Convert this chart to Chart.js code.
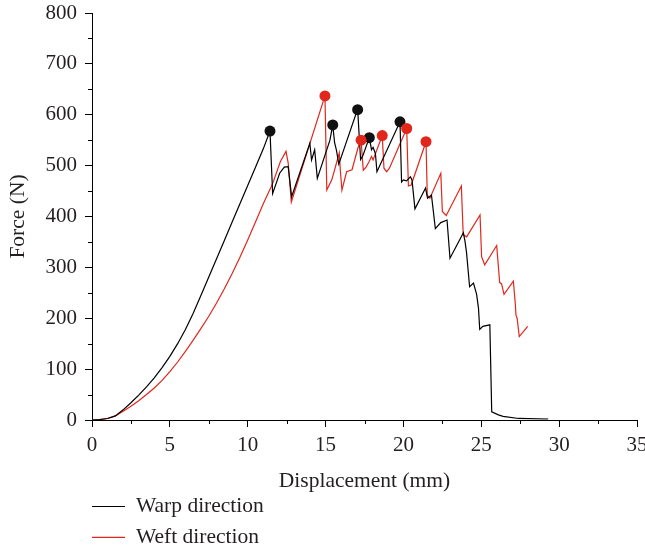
<!DOCTYPE html>
<html>
<head>
<meta charset="utf-8">
<script src="https://cdn.jsdelivr.net/npm/chart.js@4/dist/chart.umd.min.js"></script>
<style>
  html, body { margin: 0; padding: 0; background: #fff; }
  #wrap { width: 645px; height: 552px; }
</style>
</head>
<body>
<div id="wrap"><canvas id="myChart" width="645" height="552"></canvas></div>
<script>
// 1 DATA (displacement in mm, force in N)
const warpX = [0, 0.5, 1.0, 1.5, 2.0, 2.5, 3.0, 3.5, 4.0, 4.5, 5.0, 5.5, 6.0, 6.5, 7.0, 7.5, 8.0, 8.5, 9.0, 9.5, 10.0, 10.5, 11.0, 11.43,
  11.6, 12.05, 12.35, 12.6, 12.82, 13.99, 14.1, 14.3, 14.47, 15.28, 15.46,
  15.58, 15.7, 15.85, 17.06, 17.15, 17.25, 17.4, 17.81, 17.95, 18.05, 18.2, 18.3, 19.78,
  19.88, 20.0, 20.2, 20.45, 20.55, 20.74, 21.42, 21.55, 21.8, 22.05, 22.4, 22.8, 22.99,
  23.85, 23.95, 24.05, 24.25, 24.5, 24.7, 24.82, 24.9, 25.1, 25.55, 25.67, 26.1, 26.4, 27.4, 29.3];
const warpY = [0, 1, 3, 8, 20, 34, 49, 65, 83, 103, 125, 150, 178, 210, 245, 281, 317, 353, 389, 425, 461, 497, 533, 568,
  445, 485, 497, 498, 439, 544, 511, 531, 475, 550, 580,
  545, 530, 503, 611, 563, 512, 520, 555, 531, 536, 524, 488, 586,
  468, 472, 470, 478, 472, 415, 456, 436, 442, 376, 388, 393, 318,
  368, 352, 330, 262, 269, 247, 220, 178, 184, 187, 16, 10, 7, 3, 2];

const weftX = [0, 0.5, 1.0, 1.5, 2.0, 2.5, 3.0, 3.5, 4.0, 4.5, 5.0, 5.5, 6.0, 6.5, 7.0, 7.5, 8.0, 8.5, 9.0, 9.5, 10.0, 10.5, 11.0, 11.5, 11.64,
  12.1, 12.46, 12.6, 12.8, 14.96,
  15.08, 15.4, 15.8, 15.88, 15.95, 16.05, 16.35, 16.7, 17.1, 17.28,
  17.42, 17.6, 17.8, 17.95, 18.05, 18.64, 18.75, 18.92, 19.1, 20.21,
  20.32, 20.5, 21.45, 21.53, 21.7, 22.4, 22.5, 22.75, 23.72, 23.84, 24.06,
  24.92, 25.02, 25.22, 25.99, 26.18, 26.3, 26.46, 27.06, 27.18, 27.23, 27.3, 27.44, 27.98];
const weftY = [0, 1, 3, 8, 17, 27, 38, 50, 63, 78, 95, 114, 135, 157, 180, 204, 230, 258, 288, 320, 354, 389, 425, 458, 468,
  508, 528, 505, 428, 637,
  452, 472, 516, 525, 490, 452, 488, 492, 537, 550,
  491, 497, 508, 518, 511, 559, 495, 488, 495, 573,
  460, 462, 547, 442, 436, 485, 410, 402, 460, 364, 360,
  403, 321, 305, 343, 270, 268, 247, 273, 230, 206, 200, 164, 184];

// failure peaks marked with dots
const warpPeakX = [11.43, 15.46, 17.06, 17.81, 19.78];
const warpPeakY = [568, 580, 610, 555, 586];
const weftPeakX = [14.96, 17.28, 18.64, 20.21, 21.45];
const weftPeakY = [637, 550, 559, 573, 547];

const xTicks = [0, 5, 10, 15, 20, 25, 30, 35];
const yTicks = [0, 100, 200, 300, 400, 500, 600, 700, 800];

// 2 HELPERS
const RED = '#e1261c';
const FONT = 'Liberation Serif, "Times New Roman", serif';
const pts = (xs, ys) => xs.map((x, i) => ({x: x, y: ys[i]}));

// 3 MINOR TICKS + LEGEND
const extras = {
  id: 'extras',
  afterDraw(chart) {
    const c = chart.ctx;
    const sx = chart.scales.x, sy = chart.scales.y;
    const a = chart.chartArea;
    c.save();
    c.strokeStyle = '#000';
    c.lineWidth = 1;
    c.beginPath();
    for (let v = 2.5; v < 35; v += 5) {
      const px = Math.round(sx.getPixelForValue(v)) + 0.5;
      c.moveTo(px, a.bottom); c.lineTo(px, a.bottom + 4);
    }
    for (let v = 50; v < 800; v += 100) {
      const py = Math.round(sy.getPixelForValue(v)) + 0.5;
      c.moveTo(a.left - 4, py); c.lineTo(a.left, py);
    }
    c.stroke();

    // legend (line series only)
    const items = chart.data.datasets.filter(d => d.showLine);
    c.font = '21.5px ' + FONT;
    c.textBaseline = 'alphabetic';
    c.textAlign = 'left';
    items.forEach((d, i) => {
      const y = 506.5 + i * 30.8;
      c.strokeStyle = d.borderColor;
      c.lineWidth = 1.2;
      c.beginPath();
      c.moveTo(92, y); c.lineTo(125, y);
      c.stroke();
      c.fillStyle = '#231f20';
      c.fillText(d.label, 136, y + 5.5);
    });
    c.restore();
  }
};

// 4 CHART
const ctx = document.querySelector('#myChart').getContext('2d');
const myChart = new Chart(ctx, {
  type: 'scatter',
  data: {
    datasets: [
      {label: 'weft peaks', data: pts(weftPeakX, weftPeakY), backgroundColor: RED, borderWidth: 0, pointRadius: 5.5, showLine: false, order: 0},
      {label: 'warp peaks', data: pts(warpPeakX, warpPeakY), backgroundColor: '#111', borderWidth: 0, pointRadius: 5.5, showLine: false, order: 1},
      {label: 'Warp direction', data: pts(warpX, warpY), borderColor: '#000', borderWidth: 1.2, pointRadius: 0, showLine: true, tension: 0, order: 2},
      {label: 'Weft direction', data: pts(weftX, weftY), borderColor: RED, borderWidth: 1.2, pointRadius: 0, showLine: true, tension: 0, order: 3}
    ]
  },
  options: {
    responsive: false,
    animation: false,
    layout: {padding: {top: 13, right: 8, bottom: 57, left: 0}},
    plugins: {legend: {display: false}, tooltip: {enabled: false}},
    scales: {
      x: {
        type: 'linear', min: 0, max: 35,
        afterBuildTicks: s => { s.ticks = xTicks.map(v => ({value: v})); },
        afterFit: s => { s.height = 75; s.paddingLeft = 0; s.paddingRight = 0; },
        ticks: {color: '#231f20', padding: 6, font: {family: FONT, size: 21}},
        grid: {drawOnChartArea: false, tickLength: 7, color: '#000', tickWidth: 1},
        border: {color: '#000', width: 1},
        title: {display: true, text: 'Displacement (mm)', color: '#231f20', font: {family: FONT, size: 21.5}, padding: {top: 0, bottom: 1}}
      },
      y: {
        min: 0, max: 800,
        afterBuildTicks: s => { s.ticks = yTicks.map(v => ({value: v})); },
        afterFit: s => { s.width = 92; s.paddingTop = 0; s.paddingBottom = 0; },
        ticks: {color: '#231f20', padding: 8, font: {family: FONT, size: 21}},
        grid: {drawOnChartArea: false, tickLength: 7, color: '#000', tickWidth: 1},
        border: {color: '#000', width: 1},
        title: {display: true, text: 'Force (N)', color: '#231f20', font: {family: FONT, size: 21.5}, padding: {top: 5, bottom: 0}}
      }
    }
  },
  plugins: [extras]
});
</script>
</body>
</html>
